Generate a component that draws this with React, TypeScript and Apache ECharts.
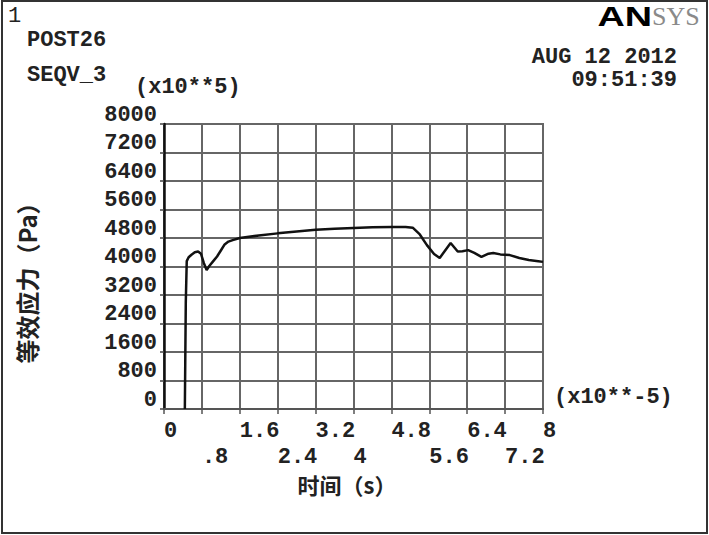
import React, { useEffect, useRef } from "react";
import * as echarts from "echarts";

// time in units of 1e-5 s
const timeValues = [0.44, 0.46, 0.48, 0.52, 0.58, 0.65, 0.72, 0.78, 0.84, 0.9, 0.96, 1.04, 1.12, 1.2, 1.28, 1.36, 1.45, 1.6, 2.0, 2.4, 2.8, 3.2, 3.6, 4.0, 4.4, 4.8, 5.1, 5.25, 5.4, 5.55, 5.7, 5.82, 5.95, 6.05, 6.2, 6.3, 6.42, 6.55, 6.7, 6.85, 6.95, 7.1, 7.3, 7.5, 7.7, 7.9, 8.0];
// equivalent stress, Pa
const stressValues = [0, 3000, 4150, 4260, 4330, 4400, 4420, 4360, 4100, 3900, 4020, 4150, 4280, 4450, 4620, 4700, 4740, 4800, 4870, 4930, 4980, 5030, 5060, 5080, 5100, 5110, 5110, 5090, 4900, 4600, 4350, 4240, 4480, 4660, 4420, 4430, 4460, 4380, 4270, 4360, 4380, 4340, 4320, 4240, 4180, 4150, 4130];

const xTickInterval = 0.8;
const yTickInterval = 800;

const headerTexts = {
  index: "1",
  post: "POST26",
  variable: "SEQV_3",
  yScale: "(x10**5)",
  xScale: "(x10**-5)",
  date: "AUG 12 2012",
  time: "09:51:39",
  yTitle: "等效应力（Pa）",
  xTitle: "时间（s）",
};

const MONO = "'Liberation Mono', 'DejaVu Sans Mono', monospace";
const CJK = "'Noto Sans CJK SC', sans-serif";

function fmtX(v: number): string {
  const r = Math.round(v * 10) / 10;
  let s = r.toString();
  if (r > 0 && r < 1) s = s.replace(/^0/, "");
  return s;
}

const labelBase = {
  fontFamily: MONO,
  fontWeight: "bold",
  fontSize: 22,
  lineHeight: 20,
  color: "#222",
  align: "left",
  showMinLabel: true,
  showMaxLabel: true,
};

export default function App() {
  const ref = useRef<HTMLDivElement>(null);
  useEffect(() => {
    document.body.style.margin = "0";
    const chart = echarts.init(ref.current!, null, { renderer: "svg" });
    const data = timeValues.map((t, i) => [t, stressValues[i]]);
    chart.setOption({
      animation: false,
      backgroundColor: "#ffffff",
      grid: {
        left: 164,
        top: 124,
        width: 379,
        height: 285,
        show: true,
        borderColor: "#666",
        borderWidth: 2,
      },
      xAxis: [
        {
          type: "value",
          min: 0,
          max: 8,
          interval: xTickInterval,
          position: "bottom",
          axisLine: { show: true, lineStyle: { color: "#555", width: 2 } },
          axisTick: { show: true, length: 5, lineStyle: { color: "#555", width: 1.5 } },
          splitLine: { show: true, lineStyle: { color: "#666", width: 2 } },
          axisLabel: {
            ...labelBase,
            margin: 12,
            formatter: (v: number) => {
              const idx = Math.round(v / xTickInterval);
              return idx % 2 === 0 ? fmtX(v) : "";
            },
          },
        },
        {
          type: "value",
          min: 0,
          max: 8,
          interval: xTickInterval,
          position: "bottom",
          offset: 26,
          axisLine: { show: false },
          axisTick: { show: false },
          splitLine: { show: false },
          axisLabel: {
            ...labelBase,
            margin: 12,
            formatter: (v: number) => {
              const idx = Math.round(v / xTickInterval);
              return idx % 2 === 1 ? fmtX(v) : "";
            },
          },
        },
      ],
      yAxis: {
        type: "value",
        min: 0,
        max: 8000,
        interval: yTickInterval,
        axisLine: { show: true, lineStyle: { color: "#111", width: 2.5 } },
        axisTick: { show: true, length: 4, lineStyle: { color: "#444", width: 1.5 } },
        splitLine: { show: true, lineStyle: { color: "#666", width: 2 } },
        axisLabel: {
          fontFamily: MONO,
          fontWeight: "bold",
          fontSize: 22,
          color: "#222",
          margin: 7,
          verticalAlign: "bottom",
          lineHeight: 18,
          showMinLabel: true,
          showMaxLabel: true,
          formatter: (v: number) => String(Math.round(v)),
        },
      },
      series: [
        {
          type: "line",
          xAxisIndex: 0,
          data,
          showSymbol: false,
          lineStyle: { color: "#111", width: 2.5 },
          z: 5,
        },
      ],
      graphic: [
        {
          type: "rect",
          shape: { x: 2, y: 1, width: 705, height: 532 },
          style: { fill: "none", stroke: "#333", lineWidth: 2 },
          silent: true,
        },
        {
          type: "text",
          x: 8,
          y: 5,
          style: { text: headerTexts.index, fontFamily: MONO, fontSize: 22, fill: "#222" },
        },
        {
          type: "text",
          x: 27,
          y: 29,
          style: { text: headerTexts.post, fontFamily: MONO, fontWeight: "bold", fontSize: 22, fill: "#222" },
        },
        {
          type: "text",
          x: 27,
          y: 64,
          style: { text: headerTexts.variable, fontFamily: MONO, fontWeight: "bold", fontSize: 22, fill: "#222" },
        },
        {
          type: "text",
          x: 135,
          y: 76,
          style: { text: headerTexts.yScale, fontFamily: MONO, fontWeight: "bold", fontSize: 22, fill: "#222" },
        },
        {
          type: "text",
          x: 554,
          y: 386,
          style: { text: headerTexts.xScale, fontFamily: MONO, fontWeight: "bold", fontSize: 22, fill: "#222" },
        },
        {
          type: "text",
          x: 677,
          y: 46,
          style: { text: headerTexts.date, align: "right", fontFamily: MONO, fontWeight: "bold", fontSize: 22, fill: "#222" },
        },
        {
          type: "text",
          x: 677,
          y: 69,
          style: { text: headerTexts.time, align: "right", fontFamily: MONO, fontWeight: "bold", fontSize: 22, fill: "#222" },
        },
        {
          type: "text",
          x: 652,
          y: 2,
          scaleX: 1.35,
          originX: 0,
          originY: 0,
          style: {
            text: "AN",
            align: "right",
            fontFamily: "'Liberation Sans', sans-serif",
            fontWeight: 900,
            fontSize: 28,
            fill: "#000",
          },
        },
        {
          type: "text",
          x: 652,
          y: 3,
          style: {
            text: "SYS",
            align: "left",
            fontFamily: "'Liberation Serif', serif",
            fontSize: 26,
            fill: "#8a8a8a",
          },
        },
        {
          type: "text",
          x: 26,
          y: 277,
          rotation: Math.PI / 2,
          style: {
            text: headerTexts.yTitle,
            align: "center",
            verticalAlign: "middle",
            fontFamily: CJK,
            fontWeight: "bold",
            fontSize: 24,
            fill: "#222",
          },
        },
        {
          type: "text",
          x: 347,
          y: 484,
          style: {
            text: headerTexts.xTitle,
            align: "center",
            verticalAlign: "middle",
            lineHeight: 22,
            fontFamily: CJK,
            fontWeight: "bold",
            fontSize: 22,
            fill: "#222",
          },
        },
      ],
    });
    return () => chart.dispose();
  }, []);
  return (
    <div
      ref={ref}
      style={{ position: "fixed", left: 0, top: 0, width: 709, height: 535 }}
    />
  );
}
